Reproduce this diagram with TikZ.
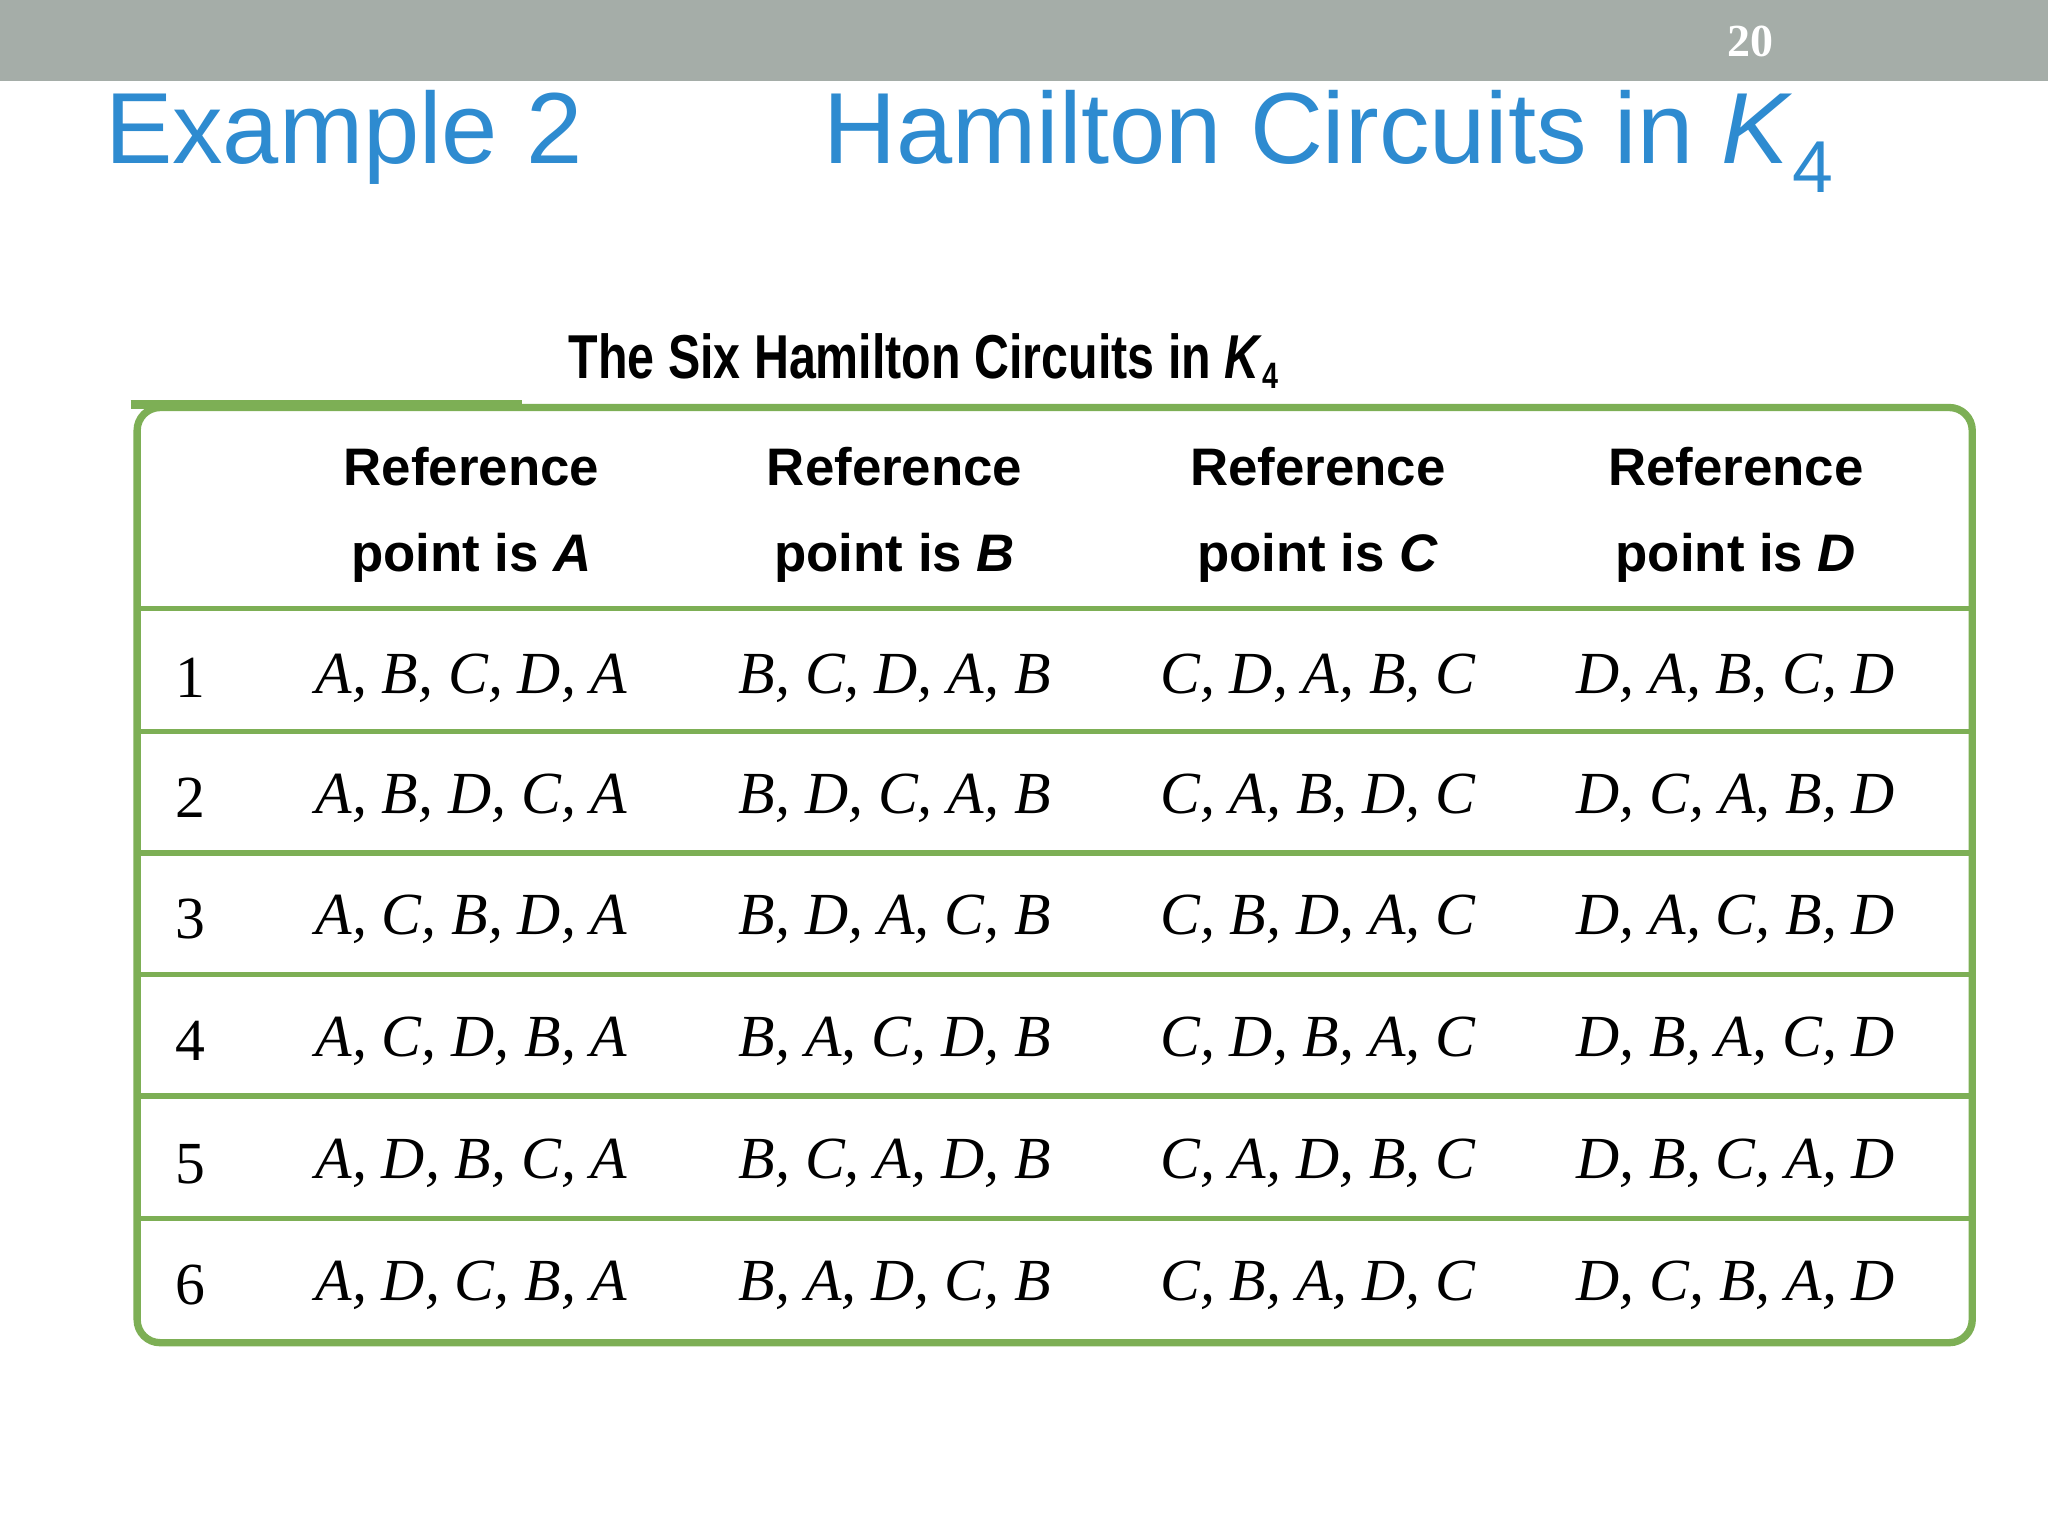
\documentclass[tikz,border=0pt]{standalone}
\usepackage{fontspec}
\setmainfont{Liberation Serif}
\setsansfont{Liberation Sans}
\definecolor{barg}{HTML}{A5ADA8}
\definecolor{ttl}{HTML}{2E8BD0}
\definecolor{grn}{HTML}{7DAF55}
\begin{document}
\begin{tikzpicture}[x=0.01cm,y=-0.01cm,
  hd/.style={font=\sffamily\bfseries\fontsize{11.5}{18.8}\selectfont, align=center, anchor=center},
  cell/.style={font=\itshape\fontsize{13}{16}\selectfont, anchor=center},
  num/.style={font=\fontsize{13}{16}\selectfont, anchor=center},
  gl/.style={draw=grn, line width=1.2pt}]
\useasboundingbox (0,0) rectangle (1568,1176);
\fill[barg] (0,0) rectangle (1568,62);
\node[text=white, font=\bfseries\fontsize{10}{12}\selectfont] (pg) at (1340,32) {20};
\node[text=ttl, font=\sffamily\fontsize{22}{24}\selectfont, anchor=base west] (ex) at (68,125) {Example 2};
\node[text=ttl, font=\sffamily\fontsize{22}{24}\selectfont, anchor=base west] (ht) at (618,125) {Hamilton Circuits in \textit{K}\raisebox{-0.55ex}{\fontsize{16}{18}\selectfont 4}};
\node[font=\sffamily\bfseries\fontsize{13.5}{16}\selectfont, anchor=base west] (cap) at (423,290) {\scalebox{0.78}[1]{The Six Hamilton Circuits in \textit{K}\raisebox{-0.3ex}{\footnotesize 4}}};
\draw[gl, line width=2pt] (100,310) -- (400,310);
\draw[gl, line width=1.6pt, rounded corners=5] (105,312) rectangle (1510,1028);
\foreach \y in {466,560,653,746,839,933} \draw[gl] (105,\y) -- (1510,\y);
\foreach \x/\l in {361/A,685/B,1009/C,1329/D}
  \node[hd] (h\l) at (\x,394) {Reference\\point is \textit{\l}};
\foreach \r/\y/\a/\b/\c/\d in {
 1/519/{A, B, C, D, A}/{B, C, D, A, B}/{C, D, A, B, C}/{D, A, B, C, D},
 2/611/{A, B, D, C, A}/{B, D, C, A, B}/{C, A, B, D, C}/{D, C, A, B, D},
 3/704/{A, C, B, D, A}/{B, D, A, C, B}/{C, B, D, A, C}/{D, A, C, B, D},
 4/797/{A, C, D, B, A}/{B, A, C, D, B}/{C, D, B, A, C}/{D, B, A, C, D},
 5/891/{A, D, B, C, A}/{B, C, A, D, B}/{C, A, D, B, C}/{D, B, C, A, D},
 6/984/{A, D, C, B, A}/{B, A, D, C, B}/{C, B, A, D, C}/{D, C, B, A, D}} {
  \node[num] (n\r) at (146,\y) {\r};
  \node[cell] (a\r) at (361,\y) {\a};
  \node[cell] (b\r) at (685,\y) {\b};
  \node[cell] (c\r) at (1009,\y) {\c};
  \node[cell] (d\r) at (1329,\y) {\d};
}
\end{tikzpicture}
\end{document}
